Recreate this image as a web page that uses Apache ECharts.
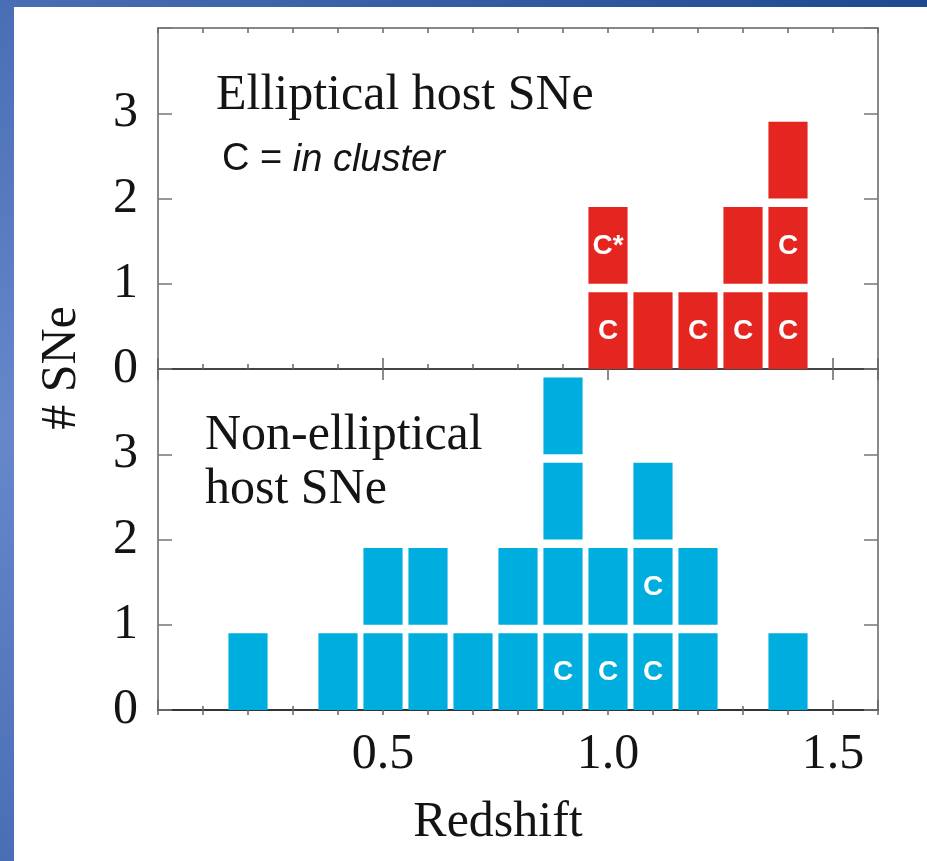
<!DOCTYPE html>
<html>
<head>
<meta charset="utf-8">
<script src="https://cdn.jsdelivr.net/npm/echarts@6/dist/echarts.min.js"></script>
<style>
html,body{margin:0;padding:0;background:#fff;}
#c{width:927px;height:861px;}
</style>
</head>
<body>
<div id="c"></div>
<script>
// ---- data ----
const ellipBins   = [1.0, 1.1, 1.2, 1.3, 1.4];
const ellipCounts = [2, 1, 1, 2, 3];
const ellipLabels = [['C','C*'], [''], ['C'], ['C',''], ['C','C','']];

const nonBins   = [0.2, 0.4, 0.5, 0.6, 0.7, 0.8, 0.9, 1.0, 1.1, 1.2, 1.4];
const nonCounts = [1, 1, 2, 2, 1, 2, 4, 2, 3, 2, 1];
const nonLabels = [[''], [''], ['',''], ['',''], [''], ['',''], ['C','','',''], ['C',''], ['C','C',''], ['',''], ['']];

const xTickLabels = ['0.5', '1.0', '1.5'];
const yTickLabels = ['0', '1', '2', '3'];

// ---- build blocks ----
function buildBlocks(bins, counts, labels) {
  const out = [];
  bins.forEach((b, i) => {
    for (let k = 0; k < counts[i]; k++) out.push({ value: [b, k], label: labels[i][k] || '' });
  });
  return out;
}
const ellipBlocks = buildBlocks(ellipBins, ellipCounts, ellipLabels);
const nonBlocks = buildBlocks(nonBins, nonCounts, nonLabels);

const HALF = 0.0435, FILL = 0.9;
const SERIF = 'Liberation Serif, Times New Roman, serif';
const SANS = 'Liberation Sans, Arial, sans-serif';

function makeRender(blocks, color) {
  return function (params, api) {
    const x = api.value(0), lv = api.value(1);
    const p0 = api.coord([x - HALF, lv + FILL]);
    const p1 = api.coord([x + HALF, lv]);
    const lab = blocks[params.dataIndex].label;
    return {
      type: 'group',
      children: [
        { type: 'rect', shape: { x: p0[0], y: p0[1], width: p1[0] - p0[0], height: p1[1] - p0[1] }, style: { fill: color } },
        { type: 'text', x: (p0[0] + p1[0]) / 2, y: (p0[1] + p1[1]) / 2 + 1,
          style: { text: lab, fill: '#fff', fontSize: 28, fontWeight: 'bold', fontFamily: SANS, align: 'center', verticalAlign: 'middle' } }
      ]
    };
  };
}

function xAx(grid, pos, interval, tickLen, opts) {
  return Object.assign({
    type: 'value', gridIndex: grid, position: pos, min: 0, max: 1.6, interval: interval,
    axisLine: { show: false },
    axisTick: { show: true, inside: true, length: tickLen, lineStyle: { color: '#666', width: 1.5 } },
    axisLabel: { show: false },
    splitLine: { show: false }
  }, opts || {});
}
function yAx(grid, pos, showLabel) {
  return {
    type: 'value', gridIndex: grid, position: pos, min: 0, max: 4, interval: 1,
    axisLine: { show: true, onZero: false, lineStyle: { color: '#888', width: 2 } },
    axisTick: { show: true, inside: true, length: 14, lineStyle: { color: '#777', width: 1.5 } },
    axisLabel: {
      show: showLabel, margin: 20, fontFamily: SERIF, fontSize: 50, color: '#141414',
      formatter: v => yTickLabels[Math.round(v)] !== undefined && Math.abs(v - Math.round(v)) < 1e-6 ? yTickLabels[Math.round(v)] : ''
    },
    splitLine: { show: false }
  };
}

const option = {
  animation: false,
  backgroundColor: '#fff',
  grid: [
    { left: 158, top: 28, width: 720, height: 341 },
    { left: 158, top: 369, width: 720, height: 341 }
  ],
  xAxis: [
    xAx(0, 'bottom', 0.1, 5, { axisLine: { show: true, onZero: false, lineStyle: { color: '#444', width: 2 } } }),
    xAx(0, 'bottom', 0.5, 11),
    xAx(0, 'top', 0.1, 5, { axisLine: { show: true, onZero: false, lineStyle: { color: '#888', width: 2 } } }),
    xAx(0, 'top', 0.5, 11),
    xAx(1, 'bottom', 0.1, 4, { axisLine: { show: true, onZero: false, lineStyle: { color: '#333', width: 2 } } }),
    xAx(1, 'bottom', 0.5, 10, { axisLabel: { show: true, margin: 20, fontFamily: SERIF, fontSize: 50, color: '#141414',
      formatter: v => { const i = Math.round(v / 0.5) - 1; return (Math.abs(v / 0.5 - Math.round(v / 0.5)) < 1e-6 && i >= 0 && i < xTickLabels.length) ? xTickLabels[i] : ''; } } }),
    xAx(1, 'top', 0.1, 5),
    xAx(1, 'top', 0.5, 11)
  ],
  yAxis: [
    yAx(0, 'left', true),
    yAx(0, 'right', false),
    yAx(1, 'left', true),
    yAx(1, 'right', false)
  ],
  series: [
    { type: 'custom', name: 'Elliptical', xAxisIndex: 0, yAxisIndex: 0, clip: false,
      renderItem: makeRender(ellipBlocks, '#E42520'), data: ellipBlocks.map(b => b.value), z: 5 },
    { type: 'custom', name: 'Non-elliptical', xAxisIndex: 4, yAxisIndex: 2, clip: false,
      renderItem: makeRender(nonBlocks, '#00ADDF'), data: nonBlocks.map(b => b.value), z: 5 }
  ],
  graphic: [
    { type: 'rect', z: 0, shape: { x: 0, y: 0, width: 14, height: 861 },
      style: { fill: new echarts.graphic.LinearGradient(0, 0, 0, 1, [
        { offset: 0, color: '#4A6EB4' }, { offset: 0.5, color: '#6688CB' }, { offset: 1, color: '#4A6EB4' }]) } },
    { type: 'rect', z: 0, shape: { x: 0, y: 0, width: 927, height: 7 },
      style: { fill: new echarts.graphic.LinearGradient(0, 0, 1, 0, [
        { offset: 0, color: '#4A6EB4' }, { offset: 1, color: '#1F4A90' }]) } },
    { type: 'text', x: 216, y: 96, z: 10,
      style: { text: 'Elliptical host SNe', fontFamily: SERIF, fontSize: 50, fill: '#141414', align: 'left', verticalAlign: 'middle' } },
    { type: 'text', x: 222, y: 160, z: 10,
      style: { text: '{n|C = }{i|in cluster}', align: 'left', verticalAlign: 'middle',
        rich: { n: { fontFamily: SANS, fontSize: 38, fill: '#141414', color: '#141414' },
                i: { fontFamily: SANS, fontSize: 38, fontStyle: 'italic', fill: '#141414', color: '#141414' } } } },
    { type: 'text', x: 205, y: 436, z: 10,
      style: { text: 'Non-elliptical', fontFamily: SERIF, fontSize: 50, fill: '#141414', align: 'left', verticalAlign: 'middle' } },
    { type: 'text', x: 205, y: 490, z: 10,
      style: { text: 'host SNe', fontFamily: SERIF, fontSize: 50, fill: '#141414', align: 'left', verticalAlign: 'middle' } },
    { type: 'text', x: 62, y: 368, z: 10, rotation: Math.PI / 2,
      style: { text: '# SNe', fontFamily: SERIF, fontSize: 50, fill: '#141414', align: 'center', verticalAlign: 'middle' } },
    { type: 'text', x: 498, y: 823, z: 10,
      style: { text: 'Redshift', fontFamily: SERIF, fontSize: 50, fill: '#141414', align: 'center', verticalAlign: 'middle' } }
  ]
};

const chart = echarts.init(document.getElementById('c'), null, { renderer: 'canvas' });
chart.setOption(option);
</script>
</body>
</html>
